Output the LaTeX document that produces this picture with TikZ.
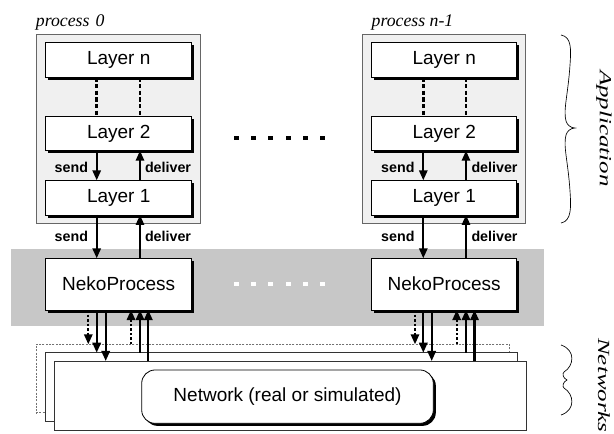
\documentclass[tikz,border=0pt]{standalone}
\usepackage{fontspec}
\setmainfont{Liberation Serif}
\setsansfont{Liberation Sans}
\usetikzlibrary{arrows.meta,shadows}
\begin{document}
\begin{tikzpicture}[x=0.75pt,y=-0.75pt,
  every node/.style={inner sep=0pt, outer sep=0pt},
  procbox/.style={draw=black!60, line width=0.6pt, fill=black!6},
  band/.style={fill=black!22},
  box/.style={draw=black, line width=0.6pt, fill=white,
    font=\sffamily\fontsize{14.25}{16}\selectfont,
    drop shadow={shadow xshift=1.9pt, shadow yshift=-1.9pt, fill=black, opacity=1}},
  lbox/.style={box, minimum width=109.5pt, minimum height=26pt},
  rbox/.style={box, minimum width=108.75pt, minimum height=26pt},
  lbl/.style={font=\sffamily\bfseries\fontsize{10.7}{12}\selectfont},
  ital/.style={font=\itshape\fontsize{13.3}{15}\selectfont},
  side/.style={rotate=-90, font=\itshape\fontsize{12.75}{14}\selectfont},
  arr/.style={line width=1.6pt, -{Triangle[length=7.5pt,width=6.2pt]}},
  darr/.style={line width=1.6pt, dash pattern=on 2pt off 1.4pt, -{Triangle[length=7.5pt,width=6.2pt]}},
  dline/.style={line width=2pt, dash pattern=on 3.2pt off 1.8pt},
  net/.style={draw=black!80, line width=0.6pt, fill=white},
  netdash/.style={draw=black!55, line width=0.5pt, dash pattern=on 1.5pt off 1pt},
  brace/.style={line width=0.5pt},
]
\useasboundingbox (0,0) rectangle (614,433);
\fill[white] (0,0) rectangle (614,433);

% process containers and band
\node[procbox, minimum width=123pt, minimum height=142pt] (P0) at (118,128.65) {};
\node[procbox, minimum width=122.25pt, minimum height=142pt] (P1) at (444.2,128.65) {};
\node[band, minimum width=399.75pt, minimum height=57.75pt] (band) at (277.5,287.5) {};

\node[ital, anchor=base west] (t0) at (36,26) {process\hspace{0.35em}0};
\node[ital, anchor=base west] (t1) at (371.7,26) {process n-1};

% left process layers
\node[lbox] (Ln0) at (118.7,60) {Layer n};
\node[lbox] (L20) at (118.7,133.35) {Layer 2};
\node[lbox] (L10) at (118.7,197.65) {Layer 1};
\node[lbox, minimum height=38.8pt] (NP0) at (118.7,284.15) {NekoProcess};

% right process layers
\node[rbox] (Ln1) at (444.2,60) {Layer n};
\node[rbox] (L21) at (444.2,133.35) {Layer 2};
\node[rbox] (L11) at (444.2,197.65) {Layer 1};
\node[rbox, minimum height=38.8pt] (NP1) at (444.2,284.15) {NekoProcess};

% network layers
\node[netdash, minimum width=355pt, minimum height=51.3pt] (ND) at (272.65,378.5) {};
\node[net, minimum width=353.7pt, minimum height=51.75pt] (NB) at (281.5,387.2) {};
\node[net, minimum width=354.5pt, minimum height=52.3pt] (NC) at (290.35,395.85) {};
\node[box, rounded corners=10pt, minimum width=218.7pt, minimum height=40pt] (NR) at (287.5,396.65) {Network (real or simulated)};

% x positions of connectors
\coordinate (a0) at (88.3,0);  \coordinate (s0) at (96.7,0);  \coordinate (c0) at (105.7,0);
\coordinate (e0) at (131,0);   \coordinate (d0) at (140,0);   \coordinate (g0) at (148.3,0);
\coordinate (a1) at (415,0);   \coordinate (s1) at (423.3,0); \coordinate (c1) at (431.7,0);
\coordinate (e1) at (456.7,0); \coordinate (d1) at (466,0);   \coordinate (g1) at (474.5,0);

% left stack connectors
\draw[dline] (Ln0.south -| s0) -- (L20.north -| s0);
\draw[dline] (Ln0.south -| d0) -- (L20.north -| d0);
\draw[arr] (L20.south -| s0) -- (L10.north -| s0);
\draw[arr] (L10.north -| d0) -- (L20.south -| d0);
\draw[arr] (L10.south -| s0) -- (NP0.north -| s0);
\draw[arr] (NP0.north -| d0) -- (L10.south -| d0);

% right stack connectors
\draw[dline] (Ln1.south -| s1) -- (L21.north -| s1);
\draw[dline] (Ln1.south -| d1) -- (L21.north -| d1);
\draw[arr] (L21.south -| s1) -- (L11.north -| s1);
\draw[arr] (L11.north -| d1) -- (L21.south -| d1);
\draw[arr] (L11.south -| s1) -- (NP1.north -| s1);
\draw[arr] (NP1.north -| d1) -- (L11.south -| d1);

% labels
\node[lbl, anchor=base east] (ls0a) at (88,172) {send};
\node[lbl, anchor=base west] (ld0a) at (145,172) {deliver};
\node[lbl, anchor=base east] (ls0b) at (88,241) {send};
\node[lbl, anchor=base west] (ld0b) at (145,241) {deliver};
\node[lbl, anchor=base east] (ls1a) at (414.5,172) {send};
\node[lbl, anchor=base west] (ld1a) at (471.5,172) {deliver};
\node[lbl, anchor=base east] (ls1b) at (414.5,241) {send};
\node[lbl, anchor=base west] (ld1b) at (471.5,241) {deliver};

% NekoProcess to networks, left
\draw[darr] (NP0.south -| a0) -- (ND.north -| a0);
\draw[arr]  (NP0.south -| s0) -- (NB.north -| s0);
\draw[arr]  (NP0.south -| c0) -- (NC.north -| c0);
\draw[darr] (ND.north -| e0) -- (NP0.south -| e0);
\draw[arr]  (NB.north -| d0) -- (NP0.south -| d0);
\draw[arr]  (NC.north -| g0) -- (NP0.south -| g0);

% NekoProcess to networks, right
\draw[darr] (NP1.south -| a1) -- (ND.north -| a1);
\draw[arr]  (NP1.south -| s1) -- (NB.north -| s1);
\draw[arr]  (NP1.south -| c1) -- (NC.north -| c1);
\draw[darr] (ND.north -| e1) -- (NP1.south -| e1);
\draw[arr]  (NB.north -| d1) -- (NP1.south -| d1);
\draw[arr]  (NC.north -| g1) -- (NP1.south -| g1);

% ellipsis dots
\foreach \x in {236,253.3,270.7,288,305.3,322.7} {
  \fill[black] (\x-2.5,135.7) rectangle (\x+2.5,139.7);
  \fill[white] (\x-2.5,282) rectangle (\x+2.5,286);
}

% braces
\draw[brace] (561,35) .. controls (572,37) and (571,50) .. (570,65)
  .. controls (568,95) and (563,110) .. (566,121)
  .. controls (567,125) and (571,128) .. (575,128)
  .. controls (571,128) and (567,131) .. (566,135)
  .. controls (563,146) and (568,161) .. (570,191)
  .. controls (571,206) and (572,221) .. (561,223);
\draw[brace] (561,345) .. controls (576,350) and (574,366) .. (564,372)
  .. controls (562,374) and (563,378) .. (567,380)
  .. controls (563,382) and (562,386) .. (564,388)
  .. controls (574,394) and (576,410) .. (561,415);

\node[side] (app) at (604,128.5) {\scalebox{1.47}[1]{Application}};
\node[side] (nets) at (604,385.5) {\scalebox{1.47}[1]{Networks}};
\end{tikzpicture}
\end{document}
